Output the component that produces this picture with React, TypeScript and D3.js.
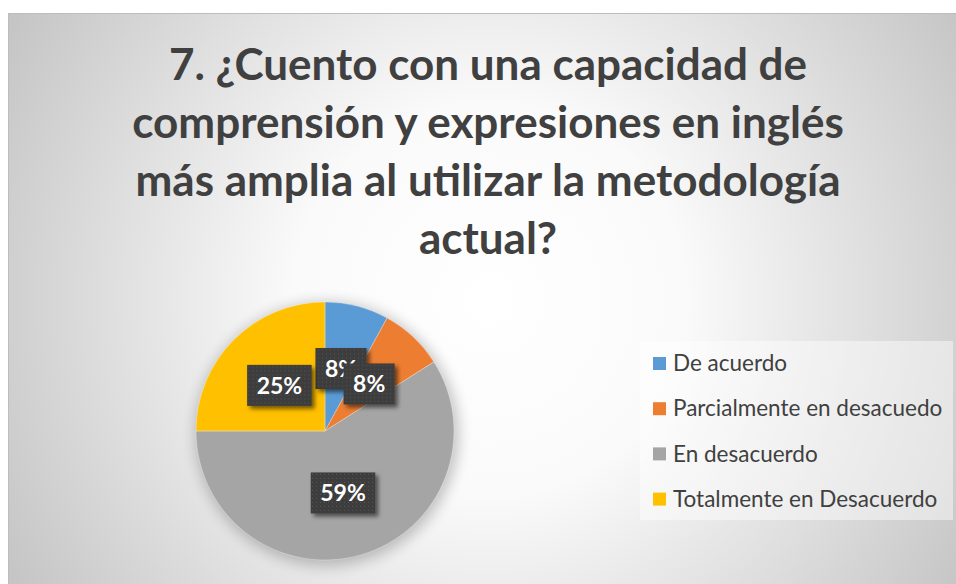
import React, { useEffect, useRef } from "react";
import * as d3 from "d3";

const titleLines = [
  "7. ¿Cuento con una capacidad de",
  "comprensión y expresiones en inglés",
  "más amplia al utilizar la metodología",
  "actual?",
];
const categories = [
  "De acuerdo",
  "Parcialmente en desacuedo",
  "En desacuerdo",
  "Totalmente en Desacuerdo",
];
const values = [8, 8, 59, 25];
const labels = ["8%", "8%", "59%", "25%"];
const colors = ["#5B9BD5", "#ED7D31", "#A5A5A5", "#FFC000"];

const W = 956;
const H = 584;
const FONT = "Lato, 'Open Sans', sans-serif";

export default function App() {
  const ref = useRef<SVGSVGElement | null>(null);

  useEffect(() => {
    const svg = d3.select(ref.current);
    svg.selectAll("*").remove();
    const defs = svg.append("defs");

    const bg = defs
      .append("radialGradient")
      .attr("id", "bg")
      .attr("gradientUnits", "userSpaceOnUse")
      .attr("cx", 490)
      .attr("cy", 300)
      .attr("r", 560);
    bg.append("stop").attr("offset", "0%").attr("stop-color", "#ffffff");
    bg.append("stop").attr("offset", "35%").attr("stop-color", "#fafafa");
    bg.append("stop").attr("offset", "100%").attr("stop-color", "#c4c4c4");

    const pat = defs
      .append("pattern")
      .attr("id", "dots")
      .attr("patternUnits", "userSpaceOnUse")
      .attr("width", 4)
      .attr("height", 4);
    pat.append("rect").attr("width", 4).attr("height", 4).attr("fill", "#3e3e3e");
    pat.append("rect").attr("x", 1).attr("y", 1).attr("width", 1).attr("height", 1).attr("fill", "#555555");

    const sh = defs.append("filter").attr("id", "shadow").attr("x", "-30%").attr("y", "-30%").attr("width", "160%").attr("height", "160%");
    sh.append("feDropShadow").attr("dx", 3).attr("dy", 3).attr("stdDeviation", 2.2).attr("flood-color", "#000").attr("flood-opacity", 0.55);

    const pieSh = defs.append("filter").attr("id", "pieShadow").attr("x", "-20%").attr("y", "-20%").attr("width", "140%").attr("height", "140%");
    pieSh.append("feGaussianBlur").attr("stdDeviation", 7);

    // background
    svg
      .append("rect")
      .attr("x", 8.5)
      .attr("y", 13.5)
      .attr("width", 960)
      .attr("height", 600)
      .attr("fill", "url(#bg)")
      .attr("stroke", "#bdbdbd")
      .attr("stroke-width", 1);

    // title
    const title = svg
      .append("text")
      .attr("text-anchor", "middle")
      .attr("font-family", FONT)
      .attr("font-weight", "bold")
      .attr("font-size", 44)
      .attr("fill", "#404040");
    titleLines.forEach((t, i) => {
      title
        .append("tspan")
        .attr("x", 488)
        .attr("y", 80 + i * 58)
        .text(t);
    });

    // pie
    const cx = 325;
    const cy = 431;
    const R = 129;
    const g = svg.append("g").attr("transform", `translate(${cx},${cy})`);
    g.append("circle")
      .attr("r", R + 3)
      .attr("cx", 2)
      .attr("cy", 3)
      .attr("fill", "#000")
      .attr("opacity", 0.22)
      .attr("filter", "url(#pieShadow)");

    const pie = d3.pie<number>().sort(null).value((d) => d)(values);
    const arc = d3.arc<d3.PieArcDatum<number>>().innerRadius(0).outerRadius(R);
    g.selectAll("path.slice")
      .data(pie)
      .enter()
      .append("path")
      .attr("class", "slice")
      .attr("d", arc)
      .attr("fill", (_d, i) => colors[i])
      .attr("stroke", "#ffffff")
      .attr("stroke-opacity", 0.5)
      .attr("stroke-width", 0.6);

    // labels
    pie.forEach((d, i) => {
      const [lx, ly] = arc.centroid(d);
      const lg = g.append("g").attr("transform", `translate(${lx},${ly})`);
      const rect = lg.append("rect").attr("fill", "url(#dots)").attr("filter", "url(#shadow)");
      const txt = lg
        .append("text")
        .attr("text-anchor", "middle")
        .attr("dy", "0.36em")
        .attr("font-family", FONT)
        .attr("font-weight", "bold")
        .attr("font-size", 23)
        .attr("fill", "#ffffff")
        .text(labels[i]);
      const tw = (txt.node() as SVGTextElement).getComputedTextLength();
      const bw = tw + 19;
      const bh = 41;
      rect.attr("x", -bw / 2).attr("y", -bh / 2).attr("width", bw).attr("height", bh);
    });

    // legend
    const lgX = 640;
    const lgY = 341;
    svg
      .append("rect")
      .attr("x", lgX)
      .attr("y", lgY)
      .attr("width", 313)
      .attr("height", 179)
      .attr("fill", "#ffffff")
      .attr("fill-opacity", 0.45);
    const item = svg
      .selectAll("g.legend")
      .data(categories)
      .enter()
      .append("g")
      .attr("class", "legend")
      .attr("transform", (_d, i) => `translate(653,${363 + i * 45.2})`);
    item
      .append("rect")
      .attr("x", 0)
      .attr("y", -6)
      .attr("width", 13)
      .attr("height", 13)
      .attr("fill", (_d, i) => colors[i]);
    item
      .append("text")
      .attr("x", 20)
      .attr("dy", "0.36em")
      .attr("font-family", FONT)
      .attr("font-size", 22.5)
      .attr("fill", "#404040")
      .text((d) => d);
  }, []);

  return (
    <svg
      ref={ref}
      width={W}
      height={H}
      style={{ position: "absolute", left: 0, top: 0, background: "#ffffff" }}
    />
  );
}
